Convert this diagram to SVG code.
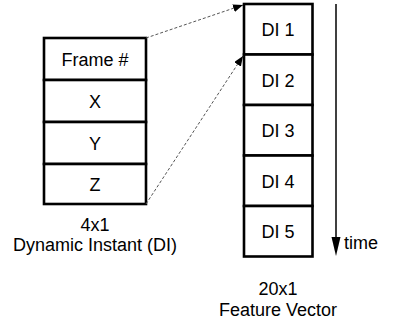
<svg xmlns="http://www.w3.org/2000/svg" width="397" height="324" viewBox="0 0 397 324">
  <style>
    .cell { fill: #ffffff; stroke: #000000; stroke-width: 2.6; }
    .lbl { font-family: "Liberation Sans", Arial, sans-serif; font-size: 18px; fill: #000000; text-anchor: middle; }
    .dash { stroke: #555555; stroke-width: 1; stroke-dasharray: 3 2; fill: none; }
  </style>
  <defs>
    <marker id="tip" viewBox="0 0 10 8" refX="10" refY="4" markerWidth="10" markerHeight="8" markerUnits="userSpaceOnUse" orient="auto">
      <path d="M0,0 L10,4 L0,8 Z" fill="#000000"/>
    </marker>
  </defs>

  <rect width="397" height="324" fill="#ffffff"/>

  <!-- 4x1 dynamic instant -->
  <g id="di-frame">
    <rect class="cell" x="44" y="38" width="102" height="42"/>
    <text class="lbl" x="95" y="65.5">Frame #</text>
  </g>
  <g id="di-x">
    <rect class="cell" x="44" y="80" width="102" height="42"/>
    <text class="lbl" x="95" y="107.5">X</text>
  </g>
  <g id="di-y">
    <rect class="cell" x="44" y="122" width="102" height="42"/>
    <text class="lbl" x="95" y="149.5">Y</text>
  </g>
  <g id="di-z">
    <rect class="cell" x="44" y="164" width="102" height="40"/>
    <text class="lbl" x="95" y="190.5">Z</text>
  </g>
  <g id="di-caption">
    <text class="lbl" x="95" y="231">4x1</text>
    <text class="lbl" x="95" y="251">Dynamic Instant (DI)</text>
  </g>

  <!-- 20x1 feature vector -->
  <g id="fv-1">
    <rect class="cell" x="244" y="4" width="68.5" height="50.5"/>
    <text class="lbl" x="278" y="36">DI 1</text>
  </g>
  <g id="fv-2">
    <rect class="cell" x="244" y="54.5" width="68.5" height="50.5"/>
    <text class="lbl" x="278" y="86.5">DI 2</text>
  </g>
  <g id="fv-3">
    <rect class="cell" x="244" y="105" width="68.5" height="50.5"/>
    <text class="lbl" x="278" y="137">DI 3</text>
  </g>
  <g id="fv-4">
    <rect class="cell" x="244" y="155.5" width="68.5" height="50.5"/>
    <text class="lbl" x="278" y="187.5">DI 4</text>
  </g>
  <g id="fv-5">
    <rect class="cell" x="244" y="206" width="68.5" height="50.5"/>
    <text class="lbl" x="278" y="238">DI 5</text>
  </g>
  <g id="fv-caption">
    <text class="lbl" x="278" y="295">20x1</text>
    <text class="lbl" x="278" y="316">Feature Vector</text>
  </g>

  <!-- time axis -->
  <g id="time">
    <line x1="336" y1="4" x2="336" y2="240" stroke="#000000" stroke-width="1.5"/>
    <path d="M331.5,237 L340.5,237 L336,256 Z" fill="#000000"/>
    <text x="344" y="249" font-family="Liberation Sans, Arial, sans-serif" font-size="18" fill="#000000">time</text>
  </g>

  <!-- connectors -->
  <g id="connectors">
    <line class="dash" x1="146" y1="38" x2="243" y2="5" marker-end="url(#tip)"/>
    <line class="dash" x1="146" y1="204" x2="243" y2="56" marker-end="url(#tip)"/>
  </g>
</svg>
